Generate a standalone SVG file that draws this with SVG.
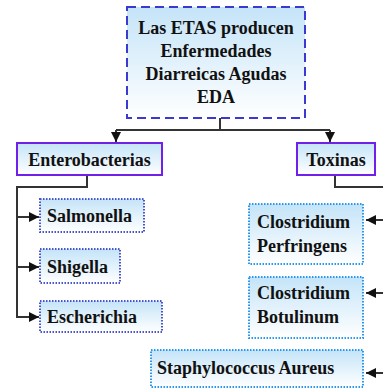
<svg xmlns="http://www.w3.org/2000/svg" width="383" height="389" viewBox="0 0 383 389">
  <style>
    .t { font-weight: 700; font-size: 18px; fill: #111; }
    .c { text-anchor: middle; }
    .main { fill: url(#g); stroke: #3a3ad0; stroke-width: 2; stroke-dasharray: 9 5; }
    .cat { fill: url(#g); stroke: #7020e8; stroke-width: 2; }
    .ent { fill: url(#g); stroke: #4a55cc; stroke-width: 2; stroke-dasharray: 1.5 1.5; }
    .tox { fill: url(#g); stroke: #2a98f0; stroke-width: 2; stroke-dasharray: 1.5 1.5; }
    .ln { fill: none; stroke: #333; stroke-width: 2; }
  </style>
  <defs>
    <linearGradient id="g" x1="0" y1="0" x2="0" y2="1">
      <stop offset="0" stop-color="#c4e4f8"/>
      <stop offset="1" stop-color="#ffffff"/>
    </linearGradient>
    <marker id="ah" viewBox="0 0 10 10" refX="10" refY="5" markerWidth="10" markerHeight="10" markerUnits="userSpaceOnUse" orient="auto">
      <path d="M0,0 L10,5 L0,10 z" fill="#111"/>
    </marker>
  </defs>

  <g id="connectors">
    <path class="ln" d="M220,118 V130 M116,130 H330"/>
    <path class="ln" d="M116,130 V142" marker-end="url(#ah)"/>
    <path class="ln" d="M330,130 V142" marker-end="url(#ah)"/>
    <path class="ln" d="M87,175 V187 H17 V317"/>
    <path class="ln" d="M16,217 H39" marker-end="url(#ah)"/>
    <path class="ln" d="M16,267 H39" marker-end="url(#ah)"/>
    <path class="ln" d="M16,317 H39" marker-end="url(#ah)"/>
    <path class="ln" d="M335,175 V187 H390"/>
    <path class="ln" d="M390,220 H366" marker-end="url(#ah)"/>
    <path class="ln" d="M390,293 H366" marker-end="url(#ah)"/>
    <path class="ln" d="M390,373 H366" marker-end="url(#ah)"/>
  </g>

  <g font-family="Liberation Serif, Times New Roman, DejaVu Serif, serif">
  <g id="eda">
    <rect class="main" x="127" y="7" width="178" height="111"/>
    <text class="t c" x="216" y="34">Las ETAS producen</text>
    <text class="t c" x="216" y="57">Enfermedades</text>
    <text class="t c" x="216" y="80">Diarreicas Agudas</text>
    <text class="t c" x="216" y="103">EDA</text>
  </g>

  <g id="enterobacterias">
    <rect class="cat" x="17" y="143" width="145" height="32"/>
    <text class="t c" x="89.5" y="166">Enterobacterias</text>
  </g>

  <g id="toxinas">
    <rect class="cat" x="297" y="143" width="78" height="32"/>
    <text class="t c" x="336" y="166">Toxinas</text>
  </g>

  <g id="salmonella">
    <rect class="ent" x="40" y="199" width="104" height="33"/>
    <text class="t" x="47" y="222">Salmonella</text>
  </g>

  <g id="shigella">
    <rect class="ent" x="40" y="249" width="80" height="34"/>
    <text class="t" x="47" y="273">Shigella</text>
  </g>

  <g id="escherichia">
    <rect class="ent" x="40" y="301" width="122" height="31"/>
    <text class="t" x="47" y="323">Escherichia</text>
  </g>

  <g id="perfringens">
    <rect class="tox" x="249" y="204" width="114" height="60"/>
    <text class="t" x="257" y="228">Clostridium</text>
    <text class="t" x="257" y="252">Perfringens</text>
  </g>

  <g id="botulinum">
    <rect class="tox" x="249" y="277" width="114" height="61"/>
    <text class="t" x="257" y="299">Clostridium</text>
    <text class="t" x="257" y="323">Botulinum</text>
  </g>

  <g id="staphylococcus">
    <rect class="tox" x="151" y="350" width="212" height="37"/>
    <text class="t" x="157" y="374">Staphylococcus Aureus</text>
  </g>
  </g>
</svg>
